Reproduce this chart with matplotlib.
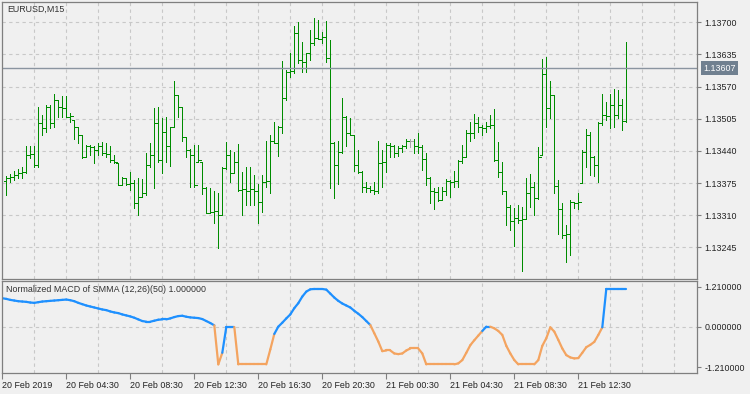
import numpy as np
import matplotlib.pyplot as plt
from matplotlib.collections import LineCollection
from matplotlib.transforms import blended_transform_factory

# EURUSD M15 bars, one value per bar (bar 1 .. 156)
first_open = 1.13379
highs = [1.13390, 1.13393, 1.13400, 1.13403, 1.13407, 1.13449, 1.13449, 1.13449, 1.13528, 1.13513,
         1.13533, 1.13533, 1.13556, 1.13543, 1.13551, 1.13551, 1.13516, 1.13502, 1.13489, 1.13472,
         1.13452, 1.13452, 1.13449, 1.13455, 1.13457, 1.13455, 1.13449, 1.13432, 1.13415, 1.13388,
         1.13386, 1.13397, 1.13381, 1.13385, 1.13383, 1.13435, 1.13455, 1.13526, 1.13528, 1.13506,
         1.13508, 1.13489, 1.13582, 1.13553, 1.13529, 1.13469, 1.13443, 1.13452, 1.13452, 1.13418,
         1.13366, 1.13364, 1.13358, 1.13354, 1.13408, 1.13457, 1.13442, 1.13438, 1.13453, 1.13398,
         1.13408, 1.13408, 1.13391, 1.13374, 1.13391, 1.13459, 1.13473, 1.13499, 1.13490, 1.13622,
         1.13604, 1.13637, 1.13693, 1.13700, 1.13661, 1.13637, 1.13685, 1.13708, 1.13705, 1.13681,
         1.13703, 1.13664, 1.13457, 1.13459, 1.13546, 1.13511, 1.13506, 1.13472, 1.13442, 1.13400,
         1.13378, 1.13370, 1.13378, 1.13460, 1.13442, 1.13455, 1.13455, 1.13452, 1.13450, 1.13452,
         1.13465, 1.13465, 1.13465, 1.13477, 1.13452, 1.13436, 1.13388, 1.13364, 1.13366, 1.13368,
         1.13383, 1.13381, 1.13400, 1.13422, 1.13452, 1.13482, 1.13499, 1.13515, 1.13509, 1.13492,
         1.13499, 1.13513, 1.13525, 1.13457, 1.13418, 1.13358, 1.13331, 1.13324, 1.13331, 1.13327,
         1.13385, 1.13393, 1.13378, 1.13447, 1.13625, 1.13629, 1.13581, 1.13554, 1.13381, 1.13334,
         1.13290, 1.13341, 1.13337, 1.13354, 1.13442, 1.13484, 1.13479, 1.13430, 1.13498, 1.13555,
         1.13538, 1.13555, 1.13565, 1.13563, 1.13544, 1.13660]
lows = [1.13351, 1.13378, 1.13381, 1.13385, 1.13385, 1.13395, 1.13425, 1.13408, 1.13408, 1.13472,
        1.13479, 1.13486, 1.13489, 1.13509, 1.13509, 1.13508, 1.13499, 1.13465, 1.13455, 1.13425,
        1.13428, 1.13432, 1.13416, 1.13432, 1.13432, 1.13428, 1.13418, 1.13415, 1.13371, 1.13371,
        1.13371, 1.13361, 1.13324, 1.13310, 1.13347, 1.13351, 1.13408, 1.13364, 1.13418, 1.13396,
        1.13418, 1.13410, 1.13489, 1.13509, 1.13459, 1.13428, 1.13368, 1.13368, 1.13418, 1.13352,
        1.13314, 1.13314, 1.13295, 1.13243, 1.13310, 1.13403, 1.13378, 1.13395, 1.13358, 1.13310,
        1.13331, 1.13331, 1.13331, 1.13295, 1.13317, 1.13368, 1.13354, 1.13455, 1.13430, 1.13476,
        1.13543, 1.13590, 1.13597, 1.13617, 1.13600, 1.13600, 1.13624, 1.13654, 1.13666, 1.13658,
        1.13620, 1.13364, 1.13345, 1.13374, 1.13435, 1.13449, 1.13472, 1.13400, 1.13395, 1.13356,
        1.13356, 1.13356, 1.13352, 1.13354, 1.13368, 1.13398, 1.13428, 1.13428, 1.13430, 1.13438,
        1.13445, 1.13447, 1.13435, 1.13436, 1.13401, 1.13371, 1.13334, 1.13322, 1.13339, 1.13341,
        1.13351, 1.13347, 1.13368, 1.13368, 1.13415, 1.13428, 1.13461, 1.13467, 1.13479, 1.13472,
        1.13479, 1.13486, 1.13420, 1.13388, 1.13353, 1.13290, 1.13281, 1.13248, 1.13294, 1.13197,
        1.13302, 1.13327, 1.13310, 1.13342, 1.13432, 1.13488, 1.13506, 1.13354, 1.13272, 1.13263,
        1.13216, 1.13230, 1.13324, 1.13322, 1.13376, 1.13408, 1.13391, 1.13389, 1.13378, 1.13492,
        1.13502, 1.13486, 1.13488, 1.13506, 1.13482, 1.13499]
closes = [1.13385, 1.13388, 1.13391, 1.13395, 1.13397, 1.13432, 1.13434, 1.13412, 1.13496, 1.13486,
          1.13529, 1.13496, 1.13543, 1.13529, 1.13527, 1.13509, 1.13511, 1.13489, 1.13472, 1.13428,
          1.13449, 1.13447, 1.13442, 1.13449, 1.13435, 1.13433, 1.13422, 1.13418, 1.13371, 1.13385,
          1.13374, 1.13376, 1.13334, 1.13347, 1.13354, 1.13412, 1.13432, 1.13496, 1.13422, 1.13479,
          1.13449, 1.13489, 1.13553, 1.13529, 1.13469, 1.13442, 1.13432, 1.13371, 1.13421, 1.13364,
          1.13314, 1.13317, 1.13319, 1.13310, 1.13405, 1.13432, 1.13395, 1.13418, 1.13361, 1.13363,
          1.13359, 1.13362, 1.13358, 1.13337, 1.13378, 1.13380, 1.13459, 1.13455, 1.13489, 1.13546,
          1.13600, 1.13602, 1.13678, 1.13624, 1.13620, 1.13637, 1.13658, 1.13668, 1.13666, 1.13671,
          1.13627, 1.13455, 1.13412, 1.13438, 1.13509, 1.13476, 1.13472, 1.13412, 1.13398, 1.13368,
          1.13364, 1.13361, 1.13359, 1.13415, 1.13417, 1.13452, 1.13450, 1.13435, 1.13445, 1.13449,
          1.13459, 1.13459, 1.13449, 1.13447, 1.13424, 1.13385, 1.13358, 1.13356, 1.13341, 1.13358,
          1.13379, 1.13378, 1.13380, 1.13420, 1.13428, 1.13476, 1.13477, 1.13496, 1.13488, 1.13486,
          1.13490, 1.13492, 1.13422, 1.13398, 1.13358, 1.13326, 1.13299, 1.13304, 1.13300, 1.13302,
          1.13354, 1.13366, 1.13344, 1.13428, 1.13595, 1.13526, 1.13554, 1.13370, 1.13322, 1.13270,
          1.13272, 1.13337, 1.13334, 1.13337, 1.13438, 1.13472, 1.13428, 1.13412, 1.13496, 1.13513,
          1.13511, 1.13533, 1.13513, 1.13533, 1.13500, 1.13607]
last_price = 1.13607

# normalized MACD, bar 0 .. 156
macd = [0.87, 0.85, 0.82, 0.80, 0.78, 0.77, 0.76, 0.74, 0.73, 0.75, 0.77,
        0.78, 0.79, 0.80, 0.81, 0.82, 0.83, 0.81, 0.78, 0.73, 0.69,
        0.65, 0.62, 0.59, 0.56, 0.53, 0.51, 0.47, 0.44, 0.42, 0.38,
        0.35, 0.32, 0.28, 0.23, 0.18, 0.16, 0.16, 0.19, 0.22, 0.23,
        0.23, 0.26, 0.30, 0.33, 0.34, 0.31, 0.29, 0.28, 0.27, 0.24,
        0.18, 0.12, 0.05, -1.13, -0.78, 0.00, 0.00, 0.00, -1.13, -1.13,
        -1.13, -1.13, -1.13, -1.13, -1.13, -1.13, -0.68, -0.21, 0.01, 0.13,
        0.26, 0.38, 0.57, 0.72, 0.92, 1.07, 1.14, 1.15, 1.15, 1.15,
        1.13, 1.01, 0.89, 0.79, 0.71, 0.65, 0.59, 0.49, 0.40, 0.30,
        0.18, 0.06, -0.19, -0.44, -0.73, -0.71, -0.71, -0.80, -0.82, -0.80,
        -0.71, -0.65, -0.65, -0.65, -0.80, -1.13, -1.13, -1.13, -1.13, -1.13,
        -1.13, -1.13, -1.13, -1.10, -1.00, -0.78, -0.55, -0.40, -0.26, -0.12,
        0.01, 0.01, -0.04, -0.12, -0.24, -0.57, -0.80, -1.00, -1.13, -1.13,
        -1.13, -1.13, -1.13, -1.00, -0.57, -0.34, -0.01, -0.14, -0.39, -0.65,
        -0.85, -0.92, -0.95, -0.94, -0.78, -0.61, -0.54, -0.45, -0.24, -0.01,
        1.15, 1.15, 1.15, 1.15, 1.15, 1.15]

price_ticks = [1.13245, 1.13310, 1.13375, 1.13440, 1.13505, 1.13570, 1.13635, 1.13700]
macd_ticks = [-1.21, 0.0, 1.21]
time_labels = ["20 Feb 2019", "20 Feb 04:30", "20 Feb 08:30", "20 Feb 12:30", "20 Feb 16:30",
               "20 Feb 20:30", "21 Feb 00:30", "21 Feb 04:30", "21 Feb 08:30", "21 Feb 12:30"]

plt.rcParams["font.family"] = ["Liberation Sans", "DejaVu Sans"]
plt.rcParams["font.size"] = 6.4

W, H = 750, 394
bg = "#F0F0F0"
frame = "#7F7F7F"
grid_c = "#C8C8C8"
txt = "#222222"

fig = plt.figure(figsize=(W / 100, H / 100), dpi=100)
fig.patch.set_facecolor(bg)


def px_axes(x0, y0, x1, y1):
    return fig.add_axes([x0 / W, 1 - y1 / H, (x1 - x0) / W, (y1 - y0) / H])


ax = px_axes(2.3, 2.3, 697.3, 279.0)
axm = px_axes(2.3, 280.7, 697.3, 373.3)

for a in (ax, axm):
    a.set_facecolor(bg)
    for s in a.spines.values():
        s.set_color(frame)
        s.set_linewidth(0.9)
    a.set_xlim(0, 173.75)
    a.set_xticks(np.arange(8, 174, 8), minor=True)
    a.grid(True, which="minor", axis="x", ls=(0, (3, 3)), color=grid_c, lw=0.8)
    a.tick_params(which="minor", length=0)
    a.yaxis.tick_right()
    a.tick_params(axis="y", length=3, width=0.8, color=frame, pad=2, labelcolor=txt)
    a.set_axisbelow(True)

# --- price bars
x = np.arange(1, len(closes) + 1)
c = np.array(closes)
lo = np.array(lows)
hi = np.array(highs)
o = np.clip(np.r_[first_open, c[:-1]], lo, hi)
doji = np.isclose(o, c, rtol=0, atol=1e-7)
bar_colors = np.where(doji, "#A8A8A8", "#008C00")

ax.vlines(x, lo, hi, colors=bar_colors, lw=0.72, antialiased=False)
ax.hlines(o, x - 0.55, x, colors=bar_colors, lw=0.72, antialiased=False)
ax.hlines(c, x, x + 0.55, colors=bar_colors, lw=0.72, antialiased=False)

ax.axhline(last_price, color="#8A94A0", lw=1.0)

ax.set_ylim(1.131810, 1.137404)
ax.set_yticks(price_ticks)
ax.set_yticklabels([f"{p:.5f}" for p in price_ticks])
ax.grid(True, which="major", axis="y", ls=(0, (3, 3)), color=grid_c, lw=0.8)
ax.set_xticks([])

tr = blended_transform_factory(ax.transAxes, ax.transData)
ax.text(1 + 6 / 695, last_price, f"{last_price:.5f}", transform=tr, ha="left", va="center",
        color="white", bbox=dict(boxstyle="square,pad=0.3", fc="#708090", ec="none"))

ax.text(5 / 695, 1 - 7 / 276.7, "EURUSD,M15", transform=ax.transAxes, ha="left", va="center",
        color="#333333")

# --- indicator panel
xm = np.arange(len(macd))
pts = np.column_stack([xm, macd])
segs = np.stack([pts[:-1], pts[1:]], axis=1)
seg_colors = np.where(np.array(macd[1:]) >= 0, "#1E90FF", "#F4A460")
axm.add_collection(LineCollection(segs, colors=seg_colors, linewidths=1.6, capstyle="round"))

axm.axhline(0, ls=(0, (3, 3)), color=grid_c, lw=0.8, zorder=0)
axm.set_ylim(-1.40, 1.40)
axm.set_yticks(macd_ticks)
axm.set_yticklabels([f"{v:.6f}" for v in macd_ticks])

axm.set_xticks(np.arange(0, 16 * len(time_labels), 16))
axm.set_xticklabels(time_labels)
for lab in axm.get_xticklabels():
    lab.set_ha("left")
axm.tick_params(axis="x", length=4, width=0.8, color=frame, pad=1.5, labelcolor=txt)

axm.text(4 / 695, 1 - 9 / 92.6, "Normalized MACD of SMMA (12,26)(50) 1.000000",
         transform=axm.transAxes, ha="left", va="center", color="#333333")

fig.savefig("out.png", dpi=100, facecolor=bg)
